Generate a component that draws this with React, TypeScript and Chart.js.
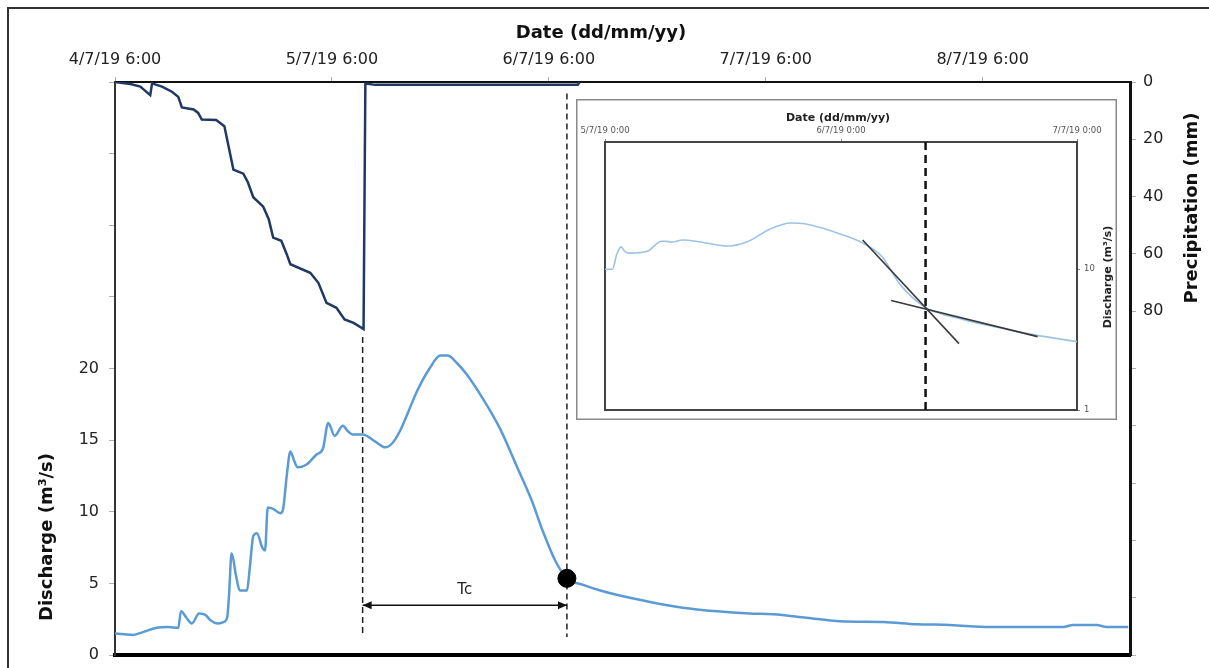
import React, { useEffect, useRef } from "react";
import { Chart, registerables } from "chart.js";

Chart.register(...registerables);

const FONT = "'DejaVu Sans', 'Liberation Sans', Arial, sans-serif";

// ---------- main chart data (x = hours since 4/7/19 6:00) ----------
const timeTickHours = [0, 24, 48, 72, 96];
const timeTickLabels = ["4/7/19 6:00", "5/7/19 6:00", "6/7/19 6:00", "7/7/19 6:00", "8/7/19 6:00"];
const timeMaxHours = 112.3;

const dischargeTickValues = [0, 5, 10, 15, 20, 25, 30, 35, 40];
const dischargeTickLabels = ["0", "5", "10", "15", "20", "", "", "", ""];
const precipTickValues = [0, 20, 40, 60, 80, 100, 120, 140, 160, 180, 200];
const precipTickLabels = ["0", "20", "40", "60", "80", "", "", "", "", "", ""];

const dischargeHours = [
  0.0, 1.0, 2.0, 3.1, 4.6, 5.9, 7.0, 7.3, 7.9, 8.5, 9.3, 10.0, 10.6, 11.3, 12.0, 12.4, 12.6, 12.9,
  13.4, 13.8, 14.6, 14.9, 15.3, 15.7, 16.3, 16.6, 16.9, 17.5, 18.3, 18.6, 19.0, 19.4, 19.8, 20.2,
  21.2, 22.3, 23.0, 23.6, 24.3, 25.2, 25.8, 26.3, 27.4, 28.8, 29.9, 30.7, 31.5, 32.4, 33.4, 34.8,
  36.0, 36.8, 37.8, 38.9, 40.7, 42.6, 44.5, 46.1, 47.3, 48.7, 50.0, 51.8, 53.7, 55.5, 59.2, 62.8,
  66.6, 70.2, 72.8, 76.5, 80.2, 85.0, 88.7, 92.4, 96.8, 104.9, 106.0, 108.6, 109.7, 112.1,
];
const dischargeValues = [
  1.5, 1.45, 1.4, 1.6, 1.9, 1.95, 1.9, 3.05, 2.6, 2.2, 2.9, 2.8, 2.4, 2.2, 2.3, 2.6, 4.0, 7.1,
  5.5, 4.5, 4.5, 6.0, 8.3, 8.5, 7.5, 7.3, 10.3, 10.2, 9.9, 10.2, 12.5, 14.2, 13.6, 13.1,
  13.3, 14.0, 14.4, 16.2, 15.3, 16.0, 15.6, 15.4, 15.4, 14.9, 14.5, 14.8, 15.6, 16.9, 18.4, 20.0,
  20.9, 20.9, 20.4, 19.6, 17.9, 15.8, 13.1, 10.8, 8.7, 6.6, 5.35, 4.9, 4.5, 4.2, 3.7, 3.3,
  3.05, 2.9, 2.85, 2.6, 2.35, 2.3, 2.15, 2.1, 1.95, 1.95, 2.1, 2.1, 1.95, 1.95,
];

const precipHours = [
  0, 1.7, 2.8, 3.9, 4.1, 5.2, 6.3, 7.0, 7.4, 8.7, 9.2, 9.6, 11.2, 12.1, 12.5, 13.1, 14.2, 14.7,
  15.3, 16.4, 17.0, 17.5, 18.4, 19.0, 19.4, 21.6, 22.5, 23.4, 24.5, 25.4, 26.4, 27.5, 27.7, 28.8,
  51.2, 51.4,
];
const precipValues = [
  0, 0.7, 1.6, 4.6, 0.5, 1.6, 3.4, 5.2, 8.9, 9.6, 10.8, 13.1, 13.3, 15.4, 21.5, 30.6, 32.0, 35.0,
  40.2, 43.5, 47.8, 54.3, 55.4, 60.1, 63.6, 66.6, 70.1, 77.1, 78.8, 82.9, 84.1, 86.2, 0.5, 1.0,
  1.0, 0,
];

// event markers
const rainEndHour = 27.4;
const tcEndHour = 50.0;
const tcPointQ = 5.35;
const tcArrowQ = 3.47;
const dashedLowQ = 1.25;
const dashed1TopQ = 22.2;
const dashed2TopQ = 39.2;
const tcLabel = "Tc";

// ---------- inset data (x = hours since 5/7/19 0:00, log discharge) ----------
const insetTickHours = [0, 24, 48];
const insetTickLabels = ["5/7/19 0:00", "6/7/19 0:00", "7/7/19 0:00"];
const insetQTicks = [1, 10];
const insetQLabels = ["1", "10"];
const insetHours = [
  0, 0.76, 1.2, 1.63, 2.0, 2.54, 4.3, 5.75, 6.1, 6.8, 7.9, 9.7, 12.5, 14.6, 16.8, 18.9, 20.3,
  23.9, 26.4, 28.2, 30.0, 32.6, 36.4, 40.0, 43.5, 48.0,
];
const insetValues = [
  10.0, 10.0, 12.8, 14.4, 13.4, 13.0, 13.4, 15.8, 15.8, 15.6, 16.1, 15.6, 14.6, 15.8, 19.3, 21.3,
  21.0, 17.8, 15.1, 12.2, 7.8, 5.35, 4.4, 3.85, 3.43, 3.06,
];
const tangentSteepHours = [26.2, 36.0];
const tangentSteepValues = [16.1, 2.96];
const tangentFlatHours = [29.1, 44.0];
const tangentFlatValues = [6.0, 3.32];
const insetBreakHour = 32.6;
const insetQMin = 1;
const insetQMax = 80;

const pts = (xs: number[], ys: number[]) => xs.map((x, i) => ({ x, y: ys[i] }));
const labelFor = (vals: number[], labels: string[], v: number) => {
  const i = vals.indexOf(v);
  return i >= 0 ? labels[i] : "";
};
const setTicks = (vals: number[]) => (s: any) => {
  s.ticks = vals.map((v) => ({ value: v }));
};
const fixWidth = (w: number) => (s: any) => {
  s.width = w;
  s.paddingTop = 0;
  s.paddingBottom = 0;
};
const fixHeight = (h: number) => (s: any) => {
  s.height = h;
  s.paddingLeft = 0;
  s.paddingRight = 0;
};

const mainDecor = {
  id: "mainDecor",
  beforeDraw(chart: any) {
    const { ctx, width, height } = chart;
    ctx.save();
    ctx.fillStyle = "#fff";
    ctx.fillRect(0, 0, width, height);
    ctx.strokeStyle = "#333";
    ctx.lineWidth = 2;
    ctx.beginPath();
    ctx.moveTo(8, height);
    ctx.lineTo(8, 8);
    ctx.lineTo(width, 8);
    ctx.stroke();
    ctx.restore();
  },
  afterDatasetsDraw(chart: any) {
    const { ctx } = chart;
    const x = chart.scales.x;
    const y = chart.scales.yQ;
    const x1 = x.getPixelForValue(rainEndHour);
    const x2 = x.getPixelForValue(tcEndHour);
    const ya = y.getPixelForValue(tcArrowQ);
    ctx.save();
    ctx.fillStyle = "#111";
    ctx.beginPath();
    ctx.moveTo(x1, ya);
    ctx.lineTo(x1 + 9, ya - 4);
    ctx.lineTo(x1 + 9, ya + 4);
    ctx.closePath();
    ctx.fill();
    ctx.beginPath();
    ctx.moveTo(x2, ya);
    ctx.lineTo(x2 - 9, ya - 4);
    ctx.lineTo(x2 - 9, ya + 4);
    ctx.closePath();
    ctx.fill();
    ctx.font = `15px ${FONT}`;
    ctx.textAlign = "center";
    ctx.textBaseline = "middle";
    ctx.fillStyle = "#222";
    ctx.fillText(tcLabel, (x1 + x2) / 2, ya - 15);
    ctx.restore();
  },
  afterDraw(chart: any) {
    const { ctx } = chart;
    ctx.save();
    ctx.fillStyle = "#111";
    ctx.font = `bold 18px ${FONT}`;
    ctx.textAlign = "center";
    ctx.textBaseline = "middle";
    ctx.fillText("Date (dd/mm/yy)", 601, 33);
    ctx.save();
    ctx.translate(47, 537);
    ctx.rotate(-Math.PI / 2);
    ctx.fillText("Discharge (m³/s)", 0, 0);
    ctx.restore();
    ctx.save();
    ctx.translate(1192, 208);
    ctx.rotate(-Math.PI / 2);
    ctx.fillText("Precipitation (mm)", 0, 0);
    ctx.restore();
    ctx.restore();
  },
};

const insetDecor = {
  id: "insetDecor",
  beforeDraw(chart: any) {
    const { ctx, width, height } = chart;
    ctx.save();
    ctx.fillStyle = "#fff";
    ctx.fillRect(0, 0, width, height);
    ctx.strokeStyle = "#8a8a8a";
    ctx.lineWidth = 1.5;
    ctx.strokeRect(0.75, 0.75, width - 1.5, height - 1.5);
    ctx.restore();
  },
  afterDraw(chart: any) {
    const { ctx } = chart;
    ctx.save();
    ctx.fillStyle = "#222";
    ctx.font = `bold 11px ${FONT}`;
    ctx.textAlign = "center";
    ctx.textBaseline = "middle";
    ctx.fillText("Date (dd/mm/yy)", 262, 19);
    ctx.translate(532, 178);
    ctx.rotate(-Math.PI / 2);
    ctx.fillText("Discharge (m³/s)", 0, 0);
    ctx.restore();
  },
};

const tickFont = { family: FONT, size: 16 };
const tickGrid = { display: true, drawOnChartArea: false, drawTicks: true, tickLength: 6, tickColor: "#b0b0b0" };

export default function App() {
  const mainRef = useRef<HTMLCanvasElement>(null);
  const insetRef = useRef<HTMLCanvasElement>(null);

  useEffect(() => {
    document.body.style.margin = "0";
    const main = new Chart(mainRef.current as HTMLCanvasElement, {
      type: "line",
      data: {
        datasets: [
          {
            data: [{ x: tcEndHour, y: tcPointQ }],
            xAxisID: "x",
            yAxisID: "yQ",
            showLine: false,
            pointRadius: 9,
            pointBackgroundColor: "#000",
            pointBorderColor: "#000",
          },
          {
            data: [
              { x: rainEndHour, y: tcArrowQ },
              { x: tcEndHour, y: tcArrowQ },
            ],
            xAxisID: "x",
            yAxisID: "yQ",
            borderColor: "#111",
            borderWidth: 1.5,
            pointRadius: 0,
          },
          {
            data: [
              { x: rainEndHour, y: dashed1TopQ },
              { x: rainEndHour, y: dashedLowQ },
            ],
            xAxisID: "x",
            yAxisID: "yQ",
            borderColor: "#222",
            borderWidth: 1.5,
            borderDash: [6, 4],
            pointRadius: 0,
          },
          {
            data: [
              { x: tcEndHour, y: dashed2TopQ },
              { x: tcEndHour, y: dashedLowQ },
            ],
            xAxisID: "x",
            yAxisID: "yQ",
            borderColor: "#222",
            borderWidth: 1.5,
            borderDash: [6, 4],
            pointRadius: 0,
          },
          {
            label: "Discharge",
            data: pts(dischargeHours, dischargeValues),
            xAxisID: "x",
            yAxisID: "yQ",
            borderColor: "#5b9bd5",
            borderWidth: 2.5,
            pointRadius: 0,
            cubicInterpolationMode: "monotone",
          },
          {
            label: "Precipitation",
            data: pts(precipHours, precipValues),
            xAxisID: "x",
            yAxisID: "yP",
            borderColor: "#1f3864",
            borderWidth: 2.5,
            pointRadius: 0,
          },
        ],
      },
      options: {
        animation: false,
        responsive: false,
        maintainAspectRatio: false,
        layout: { padding: 0 },
        plugins: { legend: { display: false }, tooltip: { enabled: false } },
        elements: { line: { tension: 0 } },
        scales: {
          x: {
            type: "linear",
            position: "top",
            min: 0,
            max: timeMaxHours,
            afterBuildTicks: setTicks(timeTickHours),
            afterFit: fixHeight(82),
            ticks: {
              callback: (v: any) => labelFor(timeTickHours, timeTickLabels, v),
              font: tickFont,
              color: "#222",
              padding: 8,
              maxRotation: 0,
              autoSkip: false,
            },
            grid: { ...tickGrid, tickLength: 5 },
            border: { display: true, color: "#111", width: 2 },
          },
          xb: {
            type: "linear",
            position: "bottom",
            min: 0,
            max: timeMaxHours,
            afterFit: fixHeight(13),
            ticks: { display: false },
            grid: { display: false },
            border: { display: true, color: "#000", width: 4 },
          },
          yQ: {
            type: "linear",
            position: "left",
            min: 0,
            max: 40,
            afterBuildTicks: setTicks(dischargeTickValues),
            afterFit: fixWidth(115),
            ticks: {
              callback: (v: any) => labelFor(dischargeTickValues, dischargeTickLabels, v),
              font: tickFont,
              color: "#222",
              padding: 10,
            },
            grid: tickGrid,
            border: { display: true, color: "#333", width: 2 },
          },
          yP: {
            type: "linear",
            position: "right",
            min: 0,
            max: 200,
            reverse: true,
            afterBuildTicks: setTicks(precipTickValues),
            afterFit: fixWidth(79),
            ticks: {
              callback: (v: any) => labelFor(precipTickValues, precipTickLabels, v),
              font: tickFont,
              color: "#222",
              padding: 7,
            },
            grid: tickGrid,
            border: { display: true, color: "#111", width: 3 },
          },
        },
      },
      plugins: [mainDecor],
    } as any);

    const smallFont = { family: FONT, size: 8.5 };
    const inset = new Chart(insetRef.current as HTMLCanvasElement, {
      type: "line",
      data: {
        datasets: [
          {
            data: pts(tangentSteepHours, tangentSteepValues),
            xAxisID: "x",
            yAxisID: "y",
            borderColor: "#3a3a3a",
            borderWidth: 1.6,
            pointRadius: 0,
          },
          {
            data: pts(tangentFlatHours, tangentFlatValues),
            xAxisID: "x",
            yAxisID: "y",
            borderColor: "#3a3a3a",
            borderWidth: 1.6,
            pointRadius: 0,
          },
          {
            data: [
              { x: insetBreakHour, y: insetQMin },
              { x: insetBreakHour, y: insetQMax },
            ],
            xAxisID: "x",
            yAxisID: "y",
            borderColor: "#111",
            borderWidth: 2.5,
            borderDash: [8, 5],
            pointRadius: 0,
          },
          {
            data: pts(insetHours, insetValues),
            xAxisID: "x",
            yAxisID: "y",
            borderColor: "#9dc3e6",
            borderWidth: 1.6,
            pointRadius: 0,
            cubicInterpolationMode: "monotone",
          },
        ],
      },
      options: {
        animation: false,
        responsive: false,
        maintainAspectRatio: false,
        layout: { padding: 0 },
        plugins: { legend: { display: false }, tooltip: { enabled: false } },
        elements: { line: { tension: 0 } },
        scales: {
          x: {
            type: "linear",
            position: "top",
            min: 0,
            max: 48,
            afterBuildTicks: setTicks(insetTickHours),
            afterFit: fixHeight(43),
            ticks: {
              callback: (v: any) => labelFor(insetTickHours, insetTickLabels, v),
              font: smallFont,
              color: "#555",
              padding: 3,
              maxRotation: 0,
              autoSkip: false,
            },
            grid: { ...tickGrid, tickLength: 3, tickColor: "#888" },
            border: { display: true, color: "#444", width: 2 },
          },
          xb: {
            type: "linear",
            position: "bottom",
            min: 0,
            max: 48,
            afterFit: fixHeight(10),
            ticks: { display: false },
            grid: { display: false },
            border: { display: true, color: "#444", width: 2 },
          },
          yl: {
            type: "linear",
            position: "left",
            min: 0,
            max: 1,
            afterFit: fixWidth(29),
            ticks: { display: false },
            grid: { display: false },
            border: { display: true, color: "#444", width: 2 },
          },
          y: {
            type: "logarithmic",
            position: "right",
            min: insetQMin,
            max: insetQMax,
            afterBuildTicks: setTicks(insetQTicks),
            afterFit: fixWidth(40),
            ticks: {
              callback: (v: any) => labelFor(insetQTicks, insetQLabels, v),
              font: smallFont,
              color: "#555",
              padding: 4,
            },
            grid: { ...tickGrid, tickLength: 3, tickColor: "#888" },
            border: { display: true, color: "#444", width: 2 },
          },
        },
      },
      plugins: [insetDecor],
    } as any);

    return () => {
      main.destroy();
      inset.destroy();
    };
  }, []);

  return (
    <div style={{ position: "relative", width: 1209, height: 668, overflow: "hidden", background: "#fff" }}>
      <canvas ref={mainRef} width={1209} height={668} style={{ position: "absolute", left: 0, top: 0 }} />
      <canvas ref={insetRef} width={541} height={321} style={{ position: "absolute", left: 576, top: 99 }} />
    </div>
  );
}
